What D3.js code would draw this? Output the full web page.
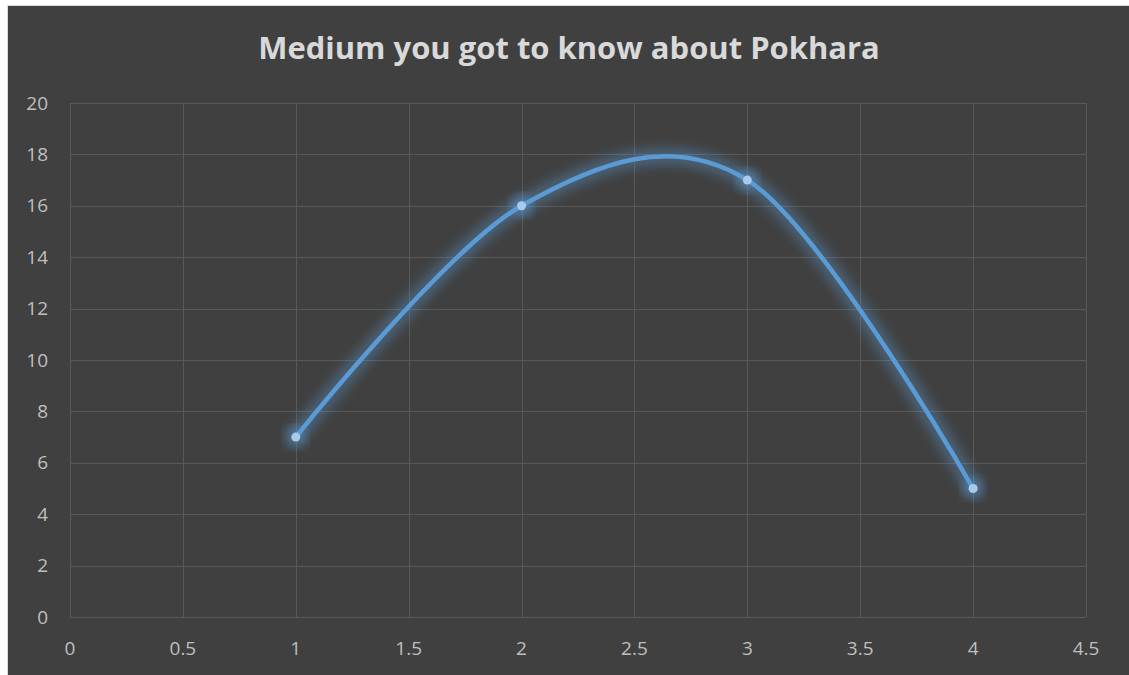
<!DOCTYPE html>
<html>
<head>
<meta charset="utf-8">
<script src="https://cdn.jsdelivr.net/npm/d3@7"></script>
<style>
  html, body { margin: 0; padding: 0; background: #fff; }
  svg { display: block; }
</style>
</head>
<body>
<div id="chart"></div>
<script>
const width = 1129;
const height = 675;

// data
const title = "Medium you got to know about Pokhara";
const xValues = [1, 2, 3, 4];
const yValues = [7, 16, 17, 5];
const xTicks = [0, 0.5, 1, 1.5, 2, 2.5, 3, 3.5, 4, 4.5];
const yTicks = [0, 2, 4, 6, 8, 10, 12, 14, 16, 18, 20];

const points = xValues.map((x, i) => ({ x: x, y: yValues[i] }));

const plot = { left: 70, right: 1086, top: 103, bottom: 617 };

const svg = d3.select("#chart")
  .append("svg")
  .attr("width", width)
  .attr("height", height);

// chart background + border
svg.append("rect")
  .attr("x", 7.5)
  .attr("y", 5.5)
  .attr("width", width)
  .attr("height", height)
  .attr("fill", "#404040")
  .attr("stroke", "#d9d9d9")
  .attr("stroke-width", 1);

const x = d3.scaleLinear().domain([0, 4.5]).range([plot.left, plot.right]);
const y = d3.scaleLinear().domain([0, 20]).range([plot.bottom, plot.top]);

// glow filter
const defs = svg.append("defs");
const glow = defs.append("filter")
  .attr("id", "glow")
  .attr("x", "-20%").attr("y", "-20%")
  .attr("width", "140%").attr("height", "140%");
glow.append("feGaussianBlur")
  .attr("in", "SourceGraphic")
  .attr("stdDeviation", 6);

// gridlines
svg.append("g")
  .selectAll("line.h")
  .data(yTicks)
  .join("line")
  .attr("x1", plot.left)
  .attr("x2", plot.right)
  .attr("y1", d => Math.round(y(d)) + 0.5)
  .attr("y2", d => Math.round(y(d)) + 0.5)
  .attr("stroke", "#595959")
  .attr("stroke-width", 1);

svg.append("g")
  .selectAll("line.v")
  .data(xTicks)
  .join("line")
  .attr("x1", d => Math.round(x(d)) + 0.5)
  .attr("x2", d => Math.round(x(d)) + 0.5)
  .attr("y1", plot.top)
  .attr("y2", plot.bottom)
  .attr("stroke", "#595959")
  .attr("stroke-width", 1);

// tick labels
svg.append("g")
  .selectAll("text")
  .data(yTicks)
  .join("text")
  .attr("x", 48)
  .attr("y", d => y(d))
  .attr("dy", "0.35em")
  .attr("text-anchor", "end")
  .attr("font-family", "Open Sans, sans-serif")
  .attr("font-size", 19)
  .attr("fill", "#bfbfbf")
  .text(d => d);

svg.append("g")
  .selectAll("text")
  .data(xTicks)
  .join("text")
  .attr("x", d => x(d))
  .attr("y", 655)
  .attr("text-anchor", "middle")
  .attr("font-family", "Open Sans, sans-serif")
  .attr("font-size", 19)
  .attr("fill", "#bfbfbf")
  .text(d => d);

// title
const titleText = svg.append("text")
  .attr("x", 569)
  .attr("y", 59)
  .attr("text-anchor", "middle")
  .attr("font-family", "Open Sans, sans-serif")
  .attr("font-weight", "bold")
  .attr("font-size", 30)
  .attr("fill", "#d9d9d9")
  .text(title);
// fit title to the reference width
const tw = titleText.node().getComputedTextLength();
titleText.attr("font-size", 30 * 622 / tw);

// smoothed line
const line = d3.line()
  .x(d => x(d.x))
  .y(d => y(d.y))
  .curve(d3.curveCardinal.tension(0));

svg.append("path")
  .datum(points)
  .attr("d", line)
  .attr("fill", "none")
  .attr("stroke", "#5b9bd5")
  .attr("stroke-width", 16)
  .attr("stroke-opacity", 0.4)
  .attr("filter", "url(#glow)");

svg.append("path")
  .datum(points)
  .attr("d", line)
  .attr("fill", "none")
  .attr("stroke", "#5b9bd5")
  .attr("stroke-width", 4.5)
  .attr("stroke-linecap", "round");

// markers
svg.append("g")
  .selectAll("circle.glow")
  .data(points)
  .join("circle")
  .attr("cx", d => x(d.x))
  .attr("cy", d => y(d.y))
  .attr("r", 10)
  .attr("fill", "#5b9bd5")
  .attr("opacity", 0.6)
  .attr("filter", "url(#glow)");

svg.append("g")
  .selectAll("circle.dot")
  .data(points)
  .join("circle")
  .attr("cx", d => x(d.x))
  .attr("cy", d => y(d.y))
  .attr("r", 4.5)
  .attr("fill", "#a9cbeb");
</script>
</body>
</html>
